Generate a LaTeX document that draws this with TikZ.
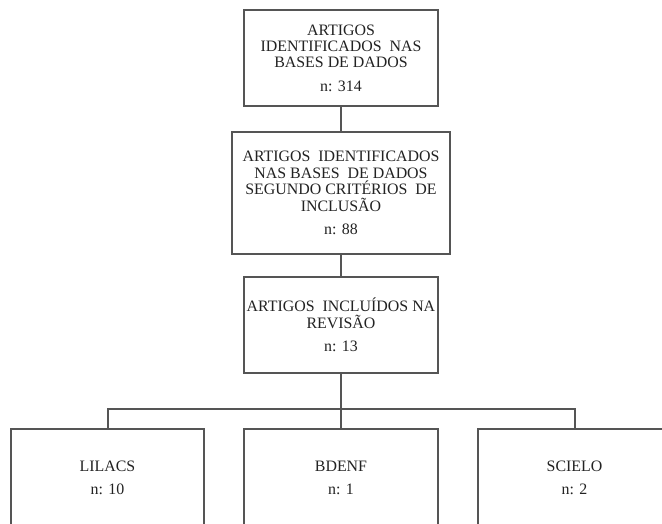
\documentclass[tikz,border=0pt]{standalone}
\usepackage{fontspec}
\setmainfont{Liberation Serif}
\definecolor{boxline}{RGB}{85,85,85}
\definecolor{txt}{RGB}{35,35,35}
\tikzset{
  flowbox/.style={draw=boxline, line width=1.6pt, rectangle, inner sep=0pt, outer sep=0pt,
    align=center, text=txt, font=\fontsize{15.9}{16.4}\selectfont},
  link/.style={draw=boxline, line width=2pt}
}
\begin{document}
\begin{tikzpicture}[x=1pt,y=-1pt]
\clip (0,0) rectangle (662,524);
\fill[white] (0,0) rectangle (662,524);
\node[flowbox, minimum width=194pt, minimum height=96pt] (b1) at (341,58)
  {ARTIGOS\\IDENTIFICADOS~~NAS\\BASES DE DADOS\\[7pt]n: 314};
\node[flowbox, minimum width=218pt, minimum height=122pt] (b2) at (341,193)
  {ARTIGOS~~IDENTIFICADOS\\NAS BASES~~DE DADOS\\SEGUNDO CRITÉRIOS~~DE\\INCLUSÃO\\[7pt]n: 88};
\node[flowbox, minimum width=194pt, minimum height=96pt] (b3) at (341,325)
  {ARTIGOS~~INCLUÍDOS NA\\REVISÃO\\[7pt]n: 13};
\node[flowbox, minimum width=193pt, minimum height=98pt] (lil) at (107.5,478)
  {LILACS\\[7pt]n: 10};
\node[flowbox, minimum width=194pt, minimum height=98pt] (bde) at (341,478)
  {BDENF\\[7pt]n: 1};
\node[flowbox, minimum width=193pt, minimum height=98pt] (sci) at (574.5,478)
  {SCIELO\\[7pt]n: 2};
\coordinate (j) at (341,409);
\draw[link] (b1.south) -- (b2.north);
\draw[link] (b2.south) -- (b3.north);
\draw[link] (b3.south) -- (j);
\draw[link] (j) -| (lil.north);
\draw[link] (j) -| (sci.north);
\draw[link] (j) -- (bde.north);
\end{tikzpicture}
\end{document}
